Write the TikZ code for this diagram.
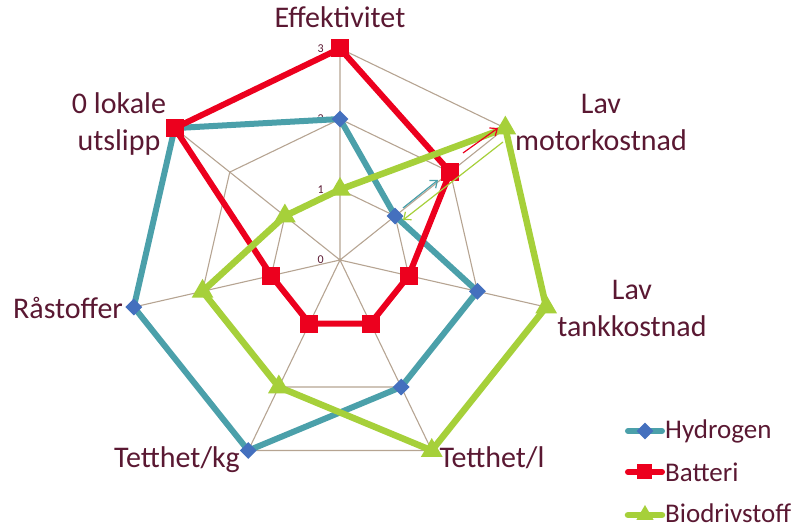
\documentclass[tikz,border=0pt]{standalone}
\usepackage{fontspec}
\setmainfont{Carlito}
\usetikzlibrary{shapes.geometric,arrows.meta}

\definecolor{txt}{RGB}{90,24,50}
\definecolor{gridc}{RGB}{182,164,146}
\definecolor{hydro}{RGB}{75,160,170}
\definecolor{hydromk}{RGB}{68,112,190}
\definecolor{batt}{RGB}{236,0,30}
\definecolor{bio}{RGB}{166,208,58}

\tikzset{
  axlabel/.style={font=\fontsize{30}{37}\selectfont, text=txt, align=center, anchor=base, inner sep=0pt},
  leglabel/.style={font=\fontsize{27}{30}\selectfont, text=txt, anchor=base west, inner sep=0pt},
  ticklabel/.style={font=\fontsize{12}{12}\selectfont, text=txt, anchor=east, inner sep=0pt},
  gridline/.style={draw=gridc, line width=1.1pt},
  hline/.style={draw=hydro, line width=6pt, line join=round},
  bline/.style={draw=batt, line width=6pt, line join=round},
  gline/.style={draw=bio, line width=6.5pt, line join=round},
  hmark/.style={diamond, fill=hydromk, inner sep=0pt, minimum size=17pt},
  bmark/.style={rectangle, fill=batt, inner sep=0pt, minimum size=18pt},
  gmark/.style={regular polygon, regular polygon sides=3, fill=bio, inner sep=0pt, minimum size=25pt},
  note/.style={line width=1.2pt, -{Straight Barb[length=6pt,width=10pt]}}
}

\begin{document}
\begin{tikzpicture}[x=70.5pt, y=70.5pt]

    \useasboundingbox (-4.8227,-3.8156) rectangle (6.4965,3.6879);

    % --- Rutenett (0 til 3) ---
    \draw[gridline] (90:1) -- (38.571:1) -- (-12.857:1) -- (-64.286:1) -- (-115.714:1) -- (-167.143:1) -- (141.429:1) -- cycle;
    \draw[gridline] (90:2) -- (38.571:2) -- (-12.857:2) -- (-64.286:2) -- (-115.714:2) -- (-167.143:2) -- (141.429:2) -- cycle;
    \draw[gridline] (90:3) -- (38.571:3) -- (-12.857:3) -- (-64.286:3) -- (-115.714:3) -- (-167.143:3) -- (141.429:3) -- cycle;
    \draw[gridline] (0,0) -- (90:3) (0,0) -- (38.571:3) (0,0) -- (-12.857:3) (0,0) -- (-64.286:3)
    (0,0) -- (-115.714:3) (0,0) -- (-167.143:3) (0,0) -- (141.429:3);

    \node[ticklabel] (t0) at (-0.23,0) {0};
    \node[ticklabel] (t1) at (-0.23,1) {1};
    \node[ticklabel] (t2) at (-0.23,2) {2};
    \node[ticklabel] (t3) at (-0.23,3) {3};

    % --- Akser ---
    \node[axlabel] (effekt) at (0,3.291) {Effektivitet};
    \node[axlabel] (motor) at (3.702,1.560) {Lav\\motorkostnad};
    \node[axlabel] (tank) at (4.142,-1.092) {Lav\\tankkostnad};
    \node[axlabel] (tettl) at (2.156,-2.950) {Tetthet/l};
    \node[axlabel] (tettkg) at (-2.312,-2.950) {Tetthet/kg};
    \node[axlabel] (raastoff) at (-3.858,-0.823) {Råstoffer};
    \node[axlabel] (utslipp) at (-3.135,1.560) {0 lokale\\utslipp};

    % --- Hydrogen ---
    \coordinate (H1) at (90:2);
    \coordinate (H2) at (38.571:1);
    \coordinate (H3) at (-12.857:2);
    \coordinate (H4) at (-64.286:2);
    \coordinate (H5) at (-115.714:3);
    \coordinate (H6) at (-167.143:3);
    \coordinate (H7) at (141.429:3);
    \draw[hline] (H1) -- (H2) -- (H3) -- (H4) -- (H5) -- (H6) -- (H7) -- cycle;
    \node[hmark] (hm1) at (H1) {};
    \node[hmark] (hm2) at (H2) {};
    \node[hmark] (hm3) at (H3) {};
    \node[hmark] (hm4) at (H4) {};
    \node[hmark] (hm5) at (H5) {};
    \node[hmark] (hm6) at (H6) {};
    \node[hmark] (hm7) at (H7) {};

    % --- Batteri ---
    \coordinate (B1) at (90:3);
    \coordinate (B2) at (38.571:2);
    \coordinate (B3) at (-12.857:1);
    \coordinate (B4) at (-64.286:1);
    \coordinate (B5) at (-115.714:1);
    \coordinate (B6) at (-167.143:1);
    \coordinate (B7) at (141.429:3);
    \draw[bline] (B1) -- (B2) -- (B3) -- (B4) -- (B5) -- (B6) -- (B7) -- cycle;
    \node[bmark] (bm1) at (B1) {};
    \node[bmark] (bm2) at (B2) {};
    \node[bmark] (bm3) at (B3) {};
    \node[bmark] (bm4) at (B4) {};
    \node[bmark] (bm5) at (B5) {};
    \node[bmark] (bm6) at (B6) {};
    \node[bmark] (bm7) at (B7) {};

    % --- Biodrivstoff ---
    \coordinate (G1) at (90:1);
    \coordinate (G2) at (38.571:3);
    \coordinate (G3) at (-12.857:3);
    \coordinate (G4) at (-64.286:3);
    \coordinate (G5) at (-115.714:2);
    \coordinate (G6) at (-167.143:2);
    \coordinate (G7) at (141.429:1);
    \draw[gline] (G1) -- (G2) -- (G3) -- (G4) -- (G5) -- (G6) -- (G7) -- cycle;
    \node[gmark] (gm1) at (G1) {};
    \node[gmark] (gm2) at (G2) {};
    \node[gmark] (gm3) at (G3) {};
    \node[gmark] (gm4) at (G4) {};
    \node[gmark] (gm5) at (G5) {};
    \node[gmark] (gm6) at (G6) {};
    \node[gmark] (gm7) at (G7) {};

    % piler langs motorkostnad-aksen
    \coordinate (ra) at (1.745,1.518);
    \coordinate (rb) at (2.241,1.872);
    \coordinate (ta) at (0.894,0.738);
    \coordinate (tb) at (1.390,1.135);
    \coordinate (ga) at (2.312,1.674);
    \coordinate (gb) at (0.894,0.567);
    \draw[note, batt] (ra) -- (rb);
    \draw[note, hydro] (ta) -- (tb);
    \draw[note, bio] (ga) -- (gb);

    % --- Forklaring ---
    \coordinate (leg1w) at (4.085,-2.426);
    \coordinate (leg1e) at (4.567,-2.426);
    \coordinate (leg2w) at (4.085,-3.007);
    \coordinate (leg2e) at (4.567,-3.007);
    \coordinate (leg3w) at (4.085,-3.617);
    \coordinate (leg3e) at (4.567,-3.617);
    \draw[hline, line cap=round] (leg1w) -- (leg1e);
    \node[hmark] (legm1) at (4.326,-2.426) {};
    \draw[bline, line cap=round] (leg2w) -- (leg2e);
    \node[bmark, minimum size=15pt] (legm2) at (4.326,-3.007) {};
    \draw[gline, line cap=round] (leg3w) -- (leg3e);
    \node[gmark, minimum size=20pt] (legm3) at (4.326,-3.617) {};
    \node[leglabel] (leg1) at (4.610,-2.525) {Hydrogen};
    \node[leglabel] (leg2) at (4.610,-3.135) {Batteri};
    \node[leglabel] (leg3) at (4.610,-3.730) {Biodrivstoff};

\end{tikzpicture}
\end{document}
